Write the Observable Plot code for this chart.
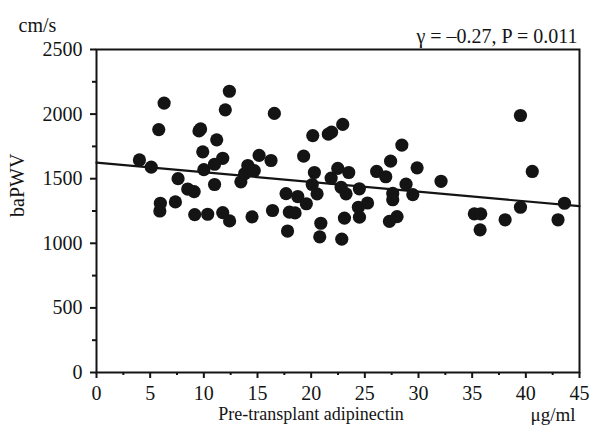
<!DOCTYPE html>
<html>
<head>
<meta charset="utf-8">
<script src="https://cdn.jsdelivr.net/npm/d3@7"></script>
<script src="https://cdn.jsdelivr.net/npm/@observablehq/plot@0.6"></script>
<style>
  html, body { margin: 0; padding: 0; background: #fff; }
  #chart svg text { font-family: "Liberation Serif", "Times New Roman", serif !important; font-variant: normal !important; }
</style>
</head>
<body>
<div id="chart"></div>
<script>
// Pre-transplant adipinectin (µg/ml)
const adipo = [
  4.0, 5.1, 6.3, 5.8, 5.95, 5.9, 7.6, 7.35, 8.5, 9.1,
  9.15, 10.36, 9.55, 9.7, 9.9, 10.0, 11.0, 11.2, 11.0, 11.76,
  11.76, 12.4, 12.38, 12.0, 13.45, 13.8, 14.1, 14.7, 15.15, 16.26,
  14.49, 16.57, 16.4, 17.66, 17.97, 18.75, 19.3, 17.8, 18.5, 19.55,
  20.15, 20.1, 20.3, 20.55, 20.9, 20.8, 21.9, 21.6, 22.94, 21.86,
  22.48, 23.5, 22.79, 23.25, 24.49, 22.85, 23.1, 24.5, 24.4, 25.25,
  26.1, 26.95, 27.4, 28.45, 29.87, 28.84, 27.6, 27.6, 29.47, 28.0,
  27.29, 32.1, 35.2, 35.8, 35.74, 38.07, 39.5, 39.5, 40.6, 43.6,
  43.0
];
// baPWV (cm/s)
const bapwv = [
  1645, 1590, 2085, 1880, 1310, 1250, 1500, 1320, 1420, 1400,
  1222, 1225, 1870, 1885, 1708, 1570, 1455, 1801, 1612, 1658,
  1238, 1173, 2177, 2033, 1476, 1538, 1602, 1563, 1680, 1641,
  1205, 2005, 1254, 1385, 1241, 1362, 1675, 1095, 1235, 1306,
  1834, 1455, 1548, 1383, 1155, 1050, 1860, 1845, 1920, 1505,
  1580, 1548, 1434, 1383, 1422, 1032, 1195, 1202, 1279, 1312,
  1556, 1515, 1636, 1760, 1584, 1458, 1386, 1337, 1377, 1207,
  1170, 1480, 1228, 1228, 1104, 1182, 1989, 1279, 1556, 1310,
  1182
];
// regression line end points
const fitX = [0, 45];
const fitY = [1625, 1287];

const xTicks = [0, 5, 10, 15, 20, 25, 30, 35, 40, 45];
const xMinor = [2.5, 7.5, 12.5, 17.5, 22.5, 27.5, 32.5, 37.5, 42.5];
const yTicks = [0, 500, 1000, 1500, 2000, 2500];
const yMinor = [250, 750, 1250, 1750, 2250];

const points = adipo.map((x, i) => ({x, y: bapwv[i]}));
const fit = fitX.map((x, i) => ({x, y: fitY[i]}));

const font = "Liberation Serif, Times New Roman, serif";
const ink = "#141414";

const chart = Plot.plot({
  width: 608,
  height: 432,
  marginLeft: 96,
  marginRight: 29,
  marginTop: 49,
  marginBottom: 60,
  x: {domain: [0, 45]},
  y: {domain: [0, 2500]},
  style: {fontFamily: font, fontSize: "20px", background: "#fff", color: ink},
  marks: [
    Plot.line(fit, {x: "x", y: "y", stroke: ink, strokeWidth: 2.2}),
    Plot.dot(points, {x: "x", y: "y", r: 6.6, fill: ink, stroke: "none"}),
    Plot.frame({stroke: ink, strokeWidth: 2}),
    // tick marks (labels drawn as text marks below)
    Plot.tickX(xTicks, {x: d => d, frameAnchor: "bottom", y1: null, stroke: ink, strokeWidth: 0}),
    Plot.axisX({ticks: xTicks, tickSize: 6, tickFormat: () => "", strokeWidth: 2, label: null}),
    Plot.axisX({ticks: xMinor, tickSize: 3, tickFormat: () => "", strokeWidth: 2, label: null}),
    Plot.axisY({ticks: yTicks, tickSize: 6, tickFormat: () => "", strokeWidth: 2, label: null}),
    Plot.axisY({ticks: yMinor, tickSize: 4, tickFormat: () => "", strokeWidth: 2, label: null}),
    // tick labels
    Plot.text(xTicks, {x: d => d, text: d => String(d), frameAnchor: "bottom", lineAnchor: "middle", dy: 21, fontSize: 20, fill: ink}),
    Plot.text(yTicks, {y: d => d, text: d => String(d), frameAnchor: "left", lineAnchor: "middle", textAnchor: "end", dx: -14, fontSize: 20, fill: ink}),
    // titles
    Plot.text(["cm/s"], {text: d => d, frameAnchor: "top-left", lineAnchor: "middle", dx: -78, dy: -24, textAnchor: "start", fontSize: 20, fill: ink}),
    Plot.text(["γ = –0.27, P = 0.011"], {text: d => d, frameAnchor: "top-right", lineAnchor: "middle", dx: -2, dy: -13, textAnchor: "end", fontSize: 20, fill: ink}),
    Plot.text(["baPWV"], {text: d => d, frameAnchor: "left", lineAnchor: "middle", dx: -79, dy: 6, rotate: -90, fontSize: 20, fill: ink}),
    Plot.text(["Pre-transplant adipinectin"], {text: d => d, frameAnchor: "bottom", lineAnchor: "middle", dx: -27, dy: 42, fontSize: 18, fill: ink}),
    Plot.text(["μg/ml"], {text: d => d, frameAnchor: "bottom-right", lineAnchor: "middle", dx: -4, dy: 42, fontSize: 19, fill: ink})
  ]
});
document.getElementById("chart").appendChild(chart);
</script>
</body>
</html>
